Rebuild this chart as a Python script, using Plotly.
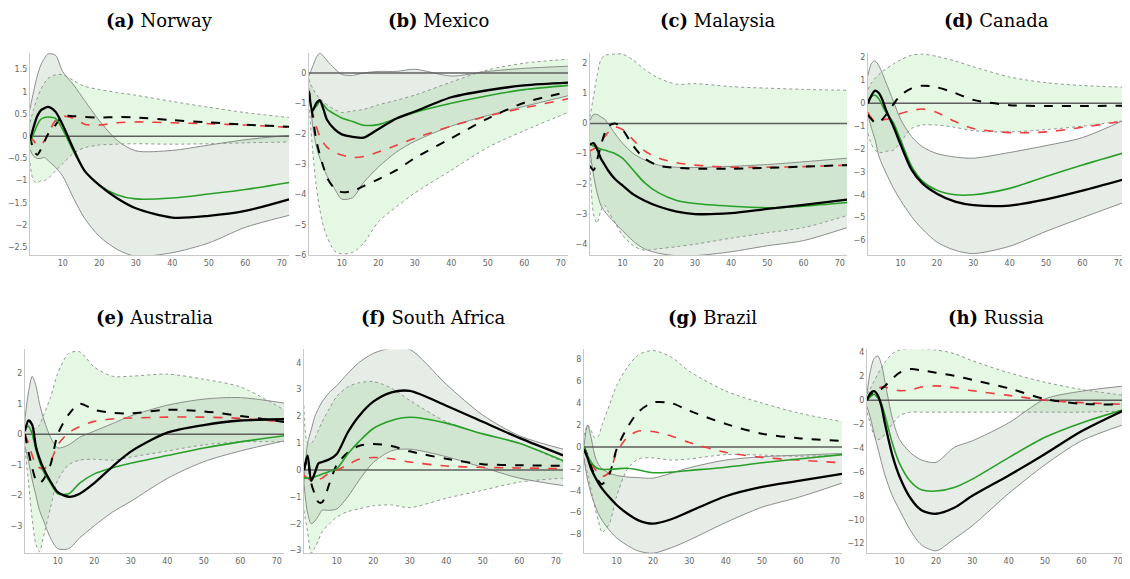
import plotly.graph_objects as go

# horizon grid (months) shared by every panel
X = [1, 2, 3, 4, 5, 6, 8, 10, 13, 16, 20, 25, 30, 40, 50, 60, 72]

# (a) Norway
NOR_GREY_HI = [0.6, 1.0, 1.35, 1.6, 1.75, 1.85, 1.82, 1.45, 1.15, 0.8, 0.35, -0.1, -0.33, -0.32, -0.2, -0.08, 0.02]
NOR_GREY_LO = [-0.3, -0.45, -0.5, -0.5, -0.48, -0.55, -0.7, -0.9, -1.4, -1.85, -2.25, -2.55, -2.7, -2.62, -2.4, -2.05, -1.78]
NOR_GRN_HI = [0.3, 0.6, 0.85, 1.05, 1.2, 1.3, 1.38, 1.38, 1.25, 1.12, 1.05, 0.98, 0.92, 0.78, 0.65, 0.53, 0.42]
NOR_GRN_LO = [-0.6, -1.0, -1.05, -1.0, -1.0, -0.95, -0.78, -0.62, -0.38, -0.26, -0.2, -0.18, -0.17, -0.18, -0.17, -0.15, -0.13]
NOR_BLACK = [-0.1, 0.2, 0.45, 0.58, 0.63, 0.66, 0.55, 0.25, -0.3, -0.78, -1.1, -1.4, -1.62, -1.83, -1.79, -1.68, -1.42]
NOR_GREEN = [-0.15, 0.05, 0.25, 0.38, 0.42, 0.43, 0.4, 0.15, -0.35, -0.78, -1.1, -1.32, -1.41, -1.39, -1.3, -1.2, -1.04]
NOR_BDASH = [0.0, -0.3, -0.42, -0.3, -0.12, 0.05, 0.25, 0.45, 0.45, 0.43, 0.42, 0.43, 0.42, 0.36, 0.31, 0.26, 0.21]
NOR_RDASH = [0.0, -0.1, -0.2, -0.2, -0.1, 0.05, 0.35, 0.45, 0.4, 0.27, 0.25, 0.3, 0.32, 0.3, 0.28, 0.25, 0.2]

# (b) Mexico
MEX_GREY_HI = [-0.1, 0.2, 0.5, 0.65, 0.55, 0.4, 0.15, -0.05, -0.08, 0.0, 0.05, 0.05, 0.12, -0.1, 0.05, 0.15, 0.22]
MEX_GREY_LO = [-0.5, -1.7, -2.4, -2.8, -3.1, -3.4, -3.8, -4.15, -4.1, -3.6, -3.1, -2.6, -2.25, -1.75, -1.4, -1.1, -0.75]
MEX_GRN_HI = [-0.2, -0.5, -0.7, -0.85, -0.95, -1.05, -1.2, -1.3, -1.25, -1.2, -1.05, -0.9, -0.73, -0.3, 0.1, 0.32, 0.45]
MEX_GRN_LO = [-1.0, -2.5, -3.7, -4.5, -5.05, -5.4, -5.85, -5.95, -5.9, -5.6, -4.9, -4.4, -3.95, -3.2, -2.45, -1.9, -1.3]
MEX_BLACK = [-0.6, -1.25, -1.0, -0.9, -1.2, -1.55, -1.85, -2.02, -2.1, -2.13, -1.85, -1.5, -1.27, -0.8, -0.57, -0.41, -0.32]
MEX_GREEN = [-0.6, -1.2, -1.1, -0.95, -1.05, -1.2, -1.35, -1.48, -1.6, -1.72, -1.7, -1.5, -1.3, -1.0, -0.75, -0.55, -0.41]
MEX_BDASH = [-0.6, -1.4, -2.2, -2.7, -3.1, -3.45, -3.8, -3.92, -3.88, -3.72, -3.5, -3.2, -2.8, -2.15, -1.5, -0.98, -0.62]
MEX_RDASH = [-0.6, -1.3, -1.75, -2.1, -2.3, -2.45, -2.6, -2.7, -2.78, -2.75, -2.6, -2.38, -2.15, -1.75, -1.42, -1.15, -0.85]

# (c) Malaysia
MAL_GREY_HI = [0.1, 0.3, 0.3, 0.22, 0.15, 0.0, -0.35, -0.65, -1.0, -1.2, -1.38, -1.45, -1.46, -1.42, -1.36, -1.27, -1.15]
MAL_GREY_LO = [-0.9, -1.7, -2.3, -2.7, -2.9, -3.05, -3.3, -3.55, -3.9, -4.15, -4.3, -4.38, -4.38, -4.25, -4.05, -3.88, -3.45]
MAL_GRN_HI = [0.2, 0.9, 1.6, 2.1, 2.25, 2.28, 2.3, 2.3, 2.1, 1.8, 1.5, 1.3, 1.32, 1.22, 1.17, 1.13, 1.1]
MAL_GRN_LO = [-1.2, -3.0, -3.3, -2.9, -2.7, -2.9, -3.3, -3.7, -4.05, -4.2, -4.15, -4.08, -4.0, -3.8, -3.62, -3.45, -3.05]
MAL_BLACK = [-0.7, -0.65, -0.85, -1.15, -1.35, -1.55, -1.85, -2.05, -2.35, -2.55, -2.75, -2.92, -3.0, -2.97, -2.83, -2.7, -2.52]
MAL_GREEN = [-0.7, -0.75, -0.8, -0.85, -0.88, -0.92, -1.0, -1.15, -1.55, -1.95, -2.3, -2.55, -2.65, -2.74, -2.79, -2.74, -2.62]
MAL_BDASH = [-1.4, -1.55, -1.2, -0.75, -0.35, -0.1, 0.0, -0.2, -0.75, -1.15, -1.4, -1.47, -1.5, -1.5, -1.47, -1.43, -1.38]
MAL_RDASH = [-0.9, -0.85, -0.75, -0.6, -0.45, -0.3, -0.12, -0.2, -0.55, -0.9, -1.15, -1.3, -1.38, -1.45, -1.45, -1.43, -1.38]

# (d) Canada
CAN_GREY_HI = [1.2, 1.75, 1.85, 1.65, 1.3, 0.9, 0.1, -0.7, -1.45, -1.9, -2.2, -2.35, -2.4, -2.15, -1.85, -1.5, -0.7]
CAN_GREY_LO = [-0.5, -1.1, -1.6, -2.3, -2.7, -3.05, -3.7, -4.25, -4.95, -5.5, -6.07, -6.43, -6.57, -6.25, -5.6, -5.0, -4.3]
CAN_GRN_HI = [0.6, 0.9, 1.1, 1.25, 1.4, 1.5, 1.72, 1.9, 2.1, 2.15, 2.05, 1.85, 1.6, 1.15, 0.9, 0.78, 0.7]
CAN_GRN_LO = [-1.3, -1.8, -2.05, -2.15, -2.15, -2.1, -2.05, -1.7, -1.1, -0.95, -0.95, -1.05, -1.2, -1.25, -1.15, -1.0, -0.75]
CAN_BLACK = [0.0, 0.35, 0.55, 0.45, 0.15, -0.3, -1.0, -1.8, -2.9, -3.5, -3.95, -4.3, -4.45, -4.47, -4.2, -3.82, -3.3]
CAN_GREEN = [0.1, 0.3, 0.35, 0.2, -0.1, -0.4, -0.85, -1.6, -2.75, -3.4, -3.8, -4.0, -4.0, -3.72, -3.2, -2.7, -2.14]
CAN_BDASH = [-0.5, -0.7, -0.85, -0.85, -0.7, -0.5, -0.05, 0.35, 0.65, 0.77, 0.7, 0.45, 0.15, -0.08, -0.12, -0.12, -0.1]
CAN_RDASH = [-0.4, -0.65, -0.75, -0.75, -0.72, -0.7, -0.6, -0.45, -0.32, -0.25, -0.4, -0.8, -1.1, -1.28, -1.25, -1.05, -0.76]

# (e) Australia
AUS_GREY_HI = [0.5, 1.4, 1.9, 1.6, 1.0, 0.55, -0.1, -0.45, -0.35, -0.1, 0.1, 0.35, 0.6, 0.95, 1.15, 1.2, 1.02]
AUS_GREY_LO = [-0.4, -0.9, -1.5, -2.0, -2.5, -2.8, -3.4, -3.75, -3.75, -3.4, -3.0, -2.55, -2.2, -1.45, -0.9, -0.55, -0.22]
AUS_GRN_HI = [0.5, 0.3, 0.2, 0.2, 0.3, 0.6, 1.2, 2.0, 2.65, 2.7, 2.2, 1.9, 1.9, 1.97, 1.8, 1.55, 0.8]
AUS_GRN_LO = [-0.5, -1.6, -2.8, -3.6, -3.85, -3.4, -2.4, -1.5, -1.0, -0.85, -0.82, -0.85, -0.75, -0.55, -0.35, -0.25, -0.25]
AUS_BLACK = [0.1, 0.45, 0.3, -0.4, -0.8, -1.1, -1.55, -1.9, -2.05, -1.95, -1.6, -1.06, -0.57, 0.05, 0.3, 0.45, 0.49]
AUS_GREEN = [0.2, 0.25, 0.0, -0.5, -0.9, -1.2, -1.6, -1.95, -1.95, -1.6, -1.3, -1.1, -0.95, -0.7, -0.45, -0.25, -0.05]
AUS_BDASH = [0.0, -0.6, -1.1, -1.5, -1.6, -1.5, -1.0, 0.0, 0.65, 1.0, 0.8, 0.7, 0.68, 0.8, 0.75, 0.6, 0.4]
AUS_RDASH = [0.0, -0.3, -0.7, -1.0, -1.1, -1.15, -0.9, -0.35, 0.05, 0.25, 0.42, 0.5, 0.53, 0.56, 0.56, 0.52, 0.4]

# (f) South Africa
ZAF_GREY_HI = [-0.5, 1.0, 1.5, 2.0, 2.3, 2.55, 2.9, 3.15, 3.6, 4.0, 4.35, 4.55, 4.5, 3.2, 2.05, 1.28, 0.78]
ZAF_GREY_LO = [-0.5, -1.6, -2.0, -1.9, -1.7, -1.5, -1.5, -1.45, -1.0, -0.4, 0.28, 0.72, 0.78, 0.5, 0.1, -0.3, -0.58]
ZAF_GRN_HI = [2.4, 1.0, 1.0, 1.2, 1.5, 1.8, 2.3, 2.75, 3.1, 3.25, 3.3, 3.05, 2.6, 1.8, 1.35, 1.0, 0.3]
ZAF_GRN_LO = [-1.5, -2.3, -3.1, -2.9, -2.6, -2.3, -2.0, -1.75, -1.55, -1.45, -1.33, -1.3, -1.4, -1.05, -0.75, -0.45, -0.3]
ZAF_BLACK = [0.0, 0.55, -0.4, -0.1, 0.25, 0.3, 0.4, 0.6, 1.4, 2.0, 2.55, 2.9, 2.95, 2.4, 1.8, 1.2, 0.55]
ZAF_GREEN = [-0.3, -0.3, -0.3, -0.25, -0.2, -0.15, -0.05, 0.05, 0.6, 1.05, 1.55, 1.85, 1.97, 1.75, 1.35, 1.0, 0.35]
ZAF_BDASH = [0.0, 0.4, -0.5, -0.9, -1.2, -1.2, -0.5, 0.2, 0.65, 0.9, 0.97, 0.9, 0.7, 0.42, 0.22, 0.18, 0.16]
ZAF_RDASH = [-0.2, -0.3, -0.4, -0.4, -0.35, -0.3, -0.1, 0.0, 0.2, 0.4, 0.47, 0.42, 0.3, 0.15, 0.1, 0.08, 0.05]

# (g) Brazil
BRA_GREY_HI = [0.0, 2.0, 0.8, -0.8, -1.6, -2.0, -2.4, -2.6, -2.75, -2.8, -2.85, -2.4, -1.9, -1.2, -0.9, -0.75, -0.6]
BRA_GREY_LO = [-1.0, -3.0, -4.3, -5.3, -6.1, -6.7, -7.6, -8.3, -9.0, -9.5, -9.7, -9.2, -8.5, -6.9, -5.5, -4.6, -3.3]
BRA_GRN_HI = [1.0, 2.0, 1.5, 0.8, 1.0, 2.0, 3.8, 5.6, 7.3, 8.4, 8.8, 8.2, 6.9, 5.1, 4.0, 3.1, 2.3]
BRA_GRN_LO = [-1.0, -2.5, -4.0, -5.5, -6.8, -7.8, -7.0, -4.5, -2.0, -1.1, -1.0, -1.2, -1.1, -0.7, -0.75, -0.85, -0.75]
BRA_BLACK = [-0.2, -1.0, -2.0, -2.7, -3.3, -3.8, -4.6, -5.3, -6.1, -6.7, -7.0, -6.6, -5.9, -4.5, -3.65, -3.1, -2.45]
BRA_GREEN = [0.0, -0.8, -1.4, -1.8, -2.0, -2.05, -2.05, -2.0, -1.95, -2.1, -2.35, -2.3, -2.15, -1.85, -1.45, -1.1, -0.7]
BRA_BDASH = [0.0, -0.8, -1.8, -2.6, -3.1, -3.4, -2.5, -0.2, 1.8, 3.2, 4.05, 4.0, 3.3, 2.1, 1.2, 0.8, 0.55]
BRA_RDASH = [0.0, -0.8, -1.5, -2.0, -2.4, -2.7, -2.3, -0.5, 0.9, 1.45, 1.4, 1.0, 0.4, -0.5, -0.95, -1.2, -1.45]

# (h) Russia
RUS_GREY_HI = [0.5, 2.5, 3.5, 3.7, 3.0, 1.5, -1.5, -3.3, -4.4, -5.0, -5.2, -3.95, -3.4, -1.9, 0.1, 0.75, 1.2]
RUS_GREY_LO = [-0.5, -1.5, -2.8, -4.0, -5.2, -6.3, -8.0, -9.2, -10.9, -12.1, -12.6, -11.6, -10.5, -7.8, -5.4, -3.4, -2.0]
RUS_GRN_HI = [0.5, 1.0, 1.6, 2.2, 2.7, 3.2, 3.9, 4.2, 4.3, 4.3, 4.2, 3.9, 3.3, 2.3, 1.5, 0.9, 0.4]
RUS_GRN_LO = [-1.0, -2.0, -3.0, -3.3, -3.2, -2.8, -2.0, -1.3, -1.0, -1.0, -1.0, -1.0, -1.0, -1.0, -1.0, -1.0, -0.9]
RUS_BLACK = [0.0, 0.6, 0.75, 0.4, -0.5, -2.0, -4.6, -6.4, -8.2, -9.2, -9.5, -9.0, -8.0, -6.3, -4.5, -2.6, -0.8]
RUS_GREEN = [0.0, 0.3, 0.5, 0.2, -0.3, -1.3, -3.6, -5.3, -6.8, -7.5, -7.6, -7.3, -6.6, -4.8, -3.1, -1.9, -0.75]
RUS_BDASH = [0.0, 0.4, 0.6, 0.8, 0.95, 1.2, 1.8, 2.3, 2.6, 2.5, 2.3, 2.05, 1.7, 1.0, 0.1, -0.3, -0.35]
RUS_RDASH = [0.0, 0.5, 0.8, 1.0, 1.1, 1.1, 0.9, 0.8, 0.85, 1.1, 1.2, 1.05, 0.8, 0.4, 0.0, -0.2, -0.35]

TITLES = ["Norway", "Mexico", "Malaysia", "Canada", "Australia", "South Africa", "Brazil", "Russia"]
LETTERS = ["a", "b", "c", "d", "e", "f", "g", "h"]
Y_RANGES = [[-2.68, 1.88], [-6.0, 0.67], [-4.37, 2.35], [-6.65, 2.22],
            [-3.9, 2.78], [-3.1, 4.5], [-9.7, 8.9], [-12.8, 4.25]]
Y_TICKS = [[-2.5, -2, -1.5, -1, -0.5, 0, 0.5, 1, 1.5], [-6, -5, -4, -3, -2, -1, 0],
           [-4, -3, -2, -1, 0, 1, 2], [-6, -5, -4, -3, -2, -1, 0, 1, 2],
           [-3, -2, -1, 0, 1, 2], [-3, -2, -1, 0, 1, 2, 3, 4],
           [-8, -6, -4, -2, 0, 2, 4, 6, 8], [-12, -10, -8, -6, -4, -2, 0, 2, 4]]
X_TICKS = [10, 20, 30, 40, 50, 60, 70]

panels = [
    (NOR_GREY_HI, NOR_GREY_LO, NOR_GRN_HI, NOR_GRN_LO, NOR_BLACK, NOR_GREEN, NOR_BDASH, NOR_RDASH),
    (MEX_GREY_HI, MEX_GREY_LO, MEX_GRN_HI, MEX_GRN_LO, MEX_BLACK, MEX_GREEN, MEX_BDASH, MEX_RDASH),
    (MAL_GREY_HI, MAL_GREY_LO, MAL_GRN_HI, MAL_GRN_LO, MAL_BLACK, MAL_GREEN, MAL_BDASH, MAL_RDASH),
    (CAN_GREY_HI, CAN_GREY_LO, CAN_GRN_HI, CAN_GRN_LO, CAN_BLACK, CAN_GREEN, CAN_BDASH, CAN_RDASH),
    (AUS_GREY_HI, AUS_GREY_LO, AUS_GRN_HI, AUS_GRN_LO, AUS_BLACK, AUS_GREEN, AUS_BDASH, AUS_RDASH),
    (ZAF_GREY_HI, ZAF_GREY_LO, ZAF_GRN_HI, ZAF_GRN_LO, ZAF_BLACK, ZAF_GREEN, ZAF_BDASH, ZAF_RDASH),
    (BRA_GREY_HI, BRA_GREY_LO, BRA_GRN_HI, BRA_GRN_LO, BRA_BLACK, BRA_GREEN, BRA_BDASH, BRA_RDASH),
    (RUS_GREY_HI, RUS_GREY_LO, RUS_GRN_HI, RUS_GRN_LO, RUS_BLACK, RUS_GREEN, RUS_BDASH, RUS_RDASH),
]

# the page body adds an 8px margin, so the figure is a bit smaller than the window
W, H, OFF = 1122, 571, 8
# panel boxes in screen pixels: left, right, top, bottom
PANEL_PX = [(22, 283, 52, 257), (303, 564, 52, 257), (586, 845, 52, 257), (866, 1126, 52, 257),
            (17, 278, 352, 558), (298, 559, 352, 558), (580, 840, 352, 558), (865, 1125, 352, 558)]
TITLE_TOP_PX = [8, 308]


def px_x(p):
    return (p - OFF) / W


def px_y(p):
    return 1 - (p - OFF) / H


fig = go.Figure()
spl = dict(shape="spline", smoothing=0.8)

for i, (ghi, glo, nhi, nlo, blk, grn, bd, rd) in enumerate(panels):
    n = i + 1
    xa = "x" if n == 1 else f"x{n}"
    ya = "y" if n == 1 else f"y{n}"
    # light green band (dotted edges)
    fig.add_trace(go.Scatter(x=X, y=nlo, xaxis=xa, yaxis=ya, mode="lines",
                             line=dict(color="rgb(150,150,150)", width=1, dash="dot", **spl),
                             showlegend=False, hoverinfo="skip"))
    fig.add_trace(go.Scatter(x=X, y=nhi, xaxis=xa, yaxis=ya, mode="lines", fill="tonexty",
                             fillcolor="rgba(120,220,120,0.2)",
                             line=dict(color="rgb(150,150,150)", width=1, dash="dot", **spl),
                             showlegend=False, hoverinfo="skip"))
    # grey band (solid edges)
    fig.add_trace(go.Scatter(x=X, y=glo, xaxis=xa, yaxis=ya, mode="lines",
                             line=dict(color="rgb(140,140,140)", width=1, **spl),
                             showlegend=False, hoverinfo="skip"))
    fig.add_trace(go.Scatter(x=X, y=ghi, xaxis=xa, yaxis=ya, mode="lines", fill="tonexty",
                             fillcolor="rgba(130,160,130,0.2)",
                             line=dict(color="rgb(140,140,140)", width=1, **spl),
                             showlegend=False, hoverinfo="skip"))
    # zero line
    fig.add_trace(go.Scatter(x=[1, 72], y=[0, 0], xaxis=xa, yaxis=ya, mode="lines",
                             line=dict(color="rgb(95,95,95)", width=1.5),
                             showlegend=False, hoverinfo="skip"))
    fig.add_trace(go.Scatter(x=X, y=rd, xaxis=xa, yaxis=ya, mode="lines",
                             line=dict(color="rgb(240,60,60)", width=1.6, dash="dash", **spl),
                             showlegend=False))
    fig.add_trace(go.Scatter(x=X, y=bd, xaxis=xa, yaxis=ya, mode="lines",
                             line=dict(color="black", width=2, dash="dash", **spl),
                             showlegend=False))
    fig.add_trace(go.Scatter(x=X, y=grn, xaxis=xa, yaxis=ya, mode="lines",
                             line=dict(color="rgb(40,160,40)", width=1.6, **spl),
                             showlegend=False))
    fig.add_trace(go.Scatter(x=X, y=blk, xaxis=xa, yaxis=ya, mode="lines",
                             line=dict(color="black", width=2.3, **spl),
                             showlegend=False))

    left, right, top, bottom = PANEL_PX[i]
    row = 0 if i < 4 else 1
    axis_font = dict(family="DejaVu Sans", size=8, color="#666")
    fig.update_layout({
        ("xaxis" if n == 1 else f"xaxis{n}"): dict(
            domain=[px_x(left), px_x(right)], anchor=ya, range=[1, 72], tickvals=X_TICKS,
            showgrid=False, zeroline=False, showline=True, linecolor="#c8c8c8",
            ticks="", tickfont=axis_font, ticklabeloverflow="allow"),
        ("yaxis" if n == 1 else f"yaxis{n}"): dict(
            domain=[px_y(bottom), px_y(top)], anchor=xa, range=Y_RANGES[i], tickvals=Y_TICKS[i],
            showgrid=False, zeroline=False, showline=True, linecolor="#c8c8c8",
            ticks="", tickfont=axis_font, ticklabeloverflow="allow"),
    })
    fig.add_annotation(x=px_x((left + right) / 2), y=px_y(TITLE_TOP_PX[row]),
                       xref="paper", yref="paper", xanchor="center", yanchor="top",
                       borderpad=0,
                       text=f"<b>({LETTERS[i]})</b> {TITLES[i]}", showarrow=False,
                       font=dict(family="DejaVu Serif", size=18, color="black"))

fig.update_layout(width=W, height=H, margin=dict(l=0, r=0, t=0, b=0),
                  plot_bgcolor="white", paper_bgcolor="white")

fig.write_html("out.html")
